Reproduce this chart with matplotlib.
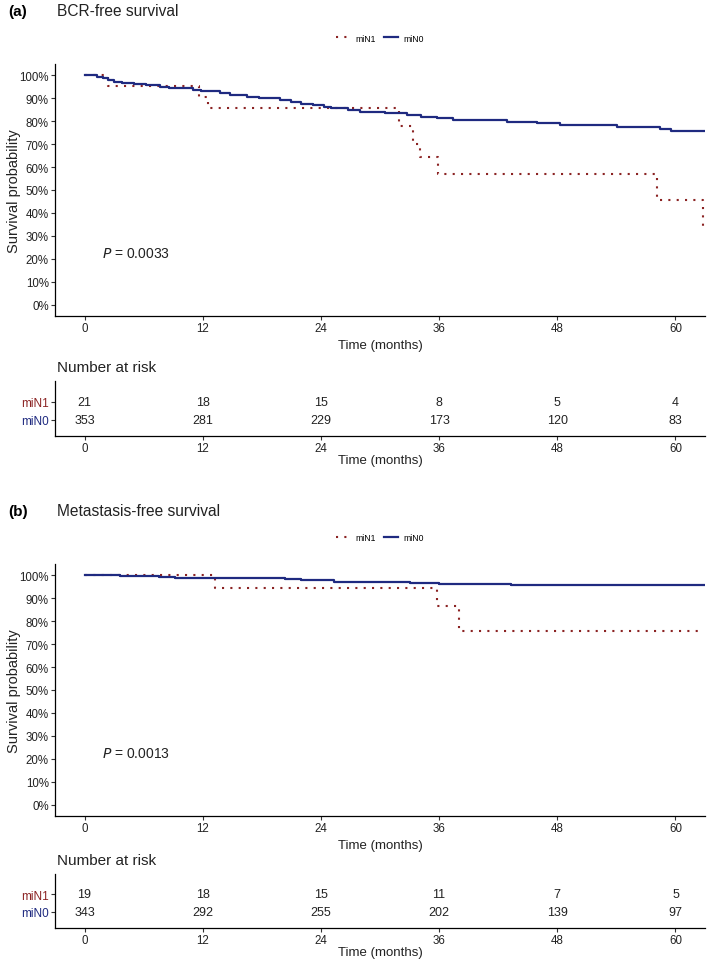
import matplotlib
matplotlib.use("Agg")
import matplotlib.pyplot as plt
from matplotlib.ticker import FuncFormatter

plt.rcParams['font.family'] = ['Liberation Sans', 'DejaVu Sans']

# ---- data ----
groups = ['miN1', 'miN0']
risk_times = [0, 12, 24, 36, 48, 60]
x_ticks = [0, 12, 24, 36, 48, 60]

# (a) BCR-free survival
a_n1_t = [0, 2.4, 11.6, 12.5, 31.9, 33.3, 34.1, 35.9, 58.1, 62.8]
a_n1_s = [1.0, 0.952, 0.905, 0.857, 0.779, 0.701, 0.643, 0.571, 0.457, 0.343]
a_n0_t = [0, 1.3, 1.9, 2.4, 3.0, 3.8, 5.0, 6.2, 7.7, 8.6, 11.0, 11.8, 13.8, 14.8,
          16.5, 17.7, 19.8, 21.0, 22.0, 23.2, 24.3, 25.0, 26.8, 28.0, 30.5, 32.7,
          34.2, 35.8, 37.4, 42.9, 45.9, 48.3, 54.1, 58.4, 59.5]
a_n0_s = [1.0, 0.994, 0.988, 0.979, 0.972, 0.968, 0.963, 0.958, 0.951, 0.944, 0.937,
          0.930, 0.922, 0.915, 0.908, 0.900, 0.892, 0.884, 0.877, 0.869, 0.862, 0.856,
          0.849, 0.842, 0.835, 0.828, 0.820, 0.813, 0.806, 0.799, 0.791, 0.784, 0.776,
          0.767, 0.757]
a_risk_n1 = [21, 18, 15, 8, 5, 4]
a_risk_n0 = [353, 281, 229, 173, 120, 83]

# (b) Metastasis-free survival
b_n1_t = [0, 13.2, 35.8, 38.0]
b_n1_s = [1.0, 0.947, 0.868, 0.759]
b_n1_end = 62.3
b_n0_t = [0, 3.6, 7.6, 9.2, 20.4, 22.0, 23.3, 25.3, 33.0, 36.0, 43.3]
b_n0_s = [1.0, 0.997, 0.994, 0.988, 0.985, 0.982, 0.978, 0.973, 0.968, 0.963, 0.957]
b_risk_n1 = [19, 18, 15, 11, 7, 5]
b_risk_n0 = [343, 292, 255, 202, 139, 97]

RED = '#8B2323'
BLUE = '#1F2A80'
W, H = 709, 970


def box(left, top, right, bottom):
    return [left / W, 1 - bottom / H, (right - left) / W, (bottom - top) / H]


def style_axes(ax):
    for s in ['top', 'right']:
        ax.spines[s].set_visible(False)
    for s in ['left', 'bottom']:
        ax.spines[s].set_linewidth(0.9)
    ax.tick_params(length=3, width=0.8, pad=1.5, color='#333333', labelcolor='#222222')


def step(ax, t, s, end, **kw):
    ax.step(list(t) + [end], list(s) + [s[-1]], where='post', **kw)


def panel(fig, tag, title, off, n1, n0, end1, risk1, risk0, pval, risk_top, risk_bot):
    t1, s1 = n1
    t0, s0 = n0
    fig.text(8 / W, 1 - (off + 12) / H, tag, fontsize=11, fontweight='bold', va='center')
    fig.text(57 / W, 1 - (off + 12) / H, title, fontsize=11.2, va='center', color='#222222')

    ax = fig.add_axes(box(55, off + 65, 705, off + 317))
    step(ax, t1, s1, end1, color=RED, lw=1.5, linestyle=(0, (1, 3)),
         dash_capstyle='butt', label='miN1')
    step(ax, t0, s0, 63, color=BLUE, lw=1.6, label='miN0')
    ax.set_xlim(-3, 63)
    ax.set_ylim(-0.05, 1.05)
    ax.set_xticks(x_ticks)
    ax.set_yticks([i / 10 for i in range(11)])
    ax.yaxis.set_major_formatter(FuncFormatter(lambda v, p: '%d%%' % round(v * 100)))
    style_axes(ax)
    ax.tick_params(labelsize=8.3)
    ax.set_ylabel('Survival probability', fontsize=10.5, color='#222222')
    ax.yaxis.set_label_coords(-0.052, 0.5)
    ax.text(0.5, -29 / 252, 'Time (months)', transform=ax.transAxes,
            ha='center', va='center', fontsize=9.5, color='#222222')
    ax.text(1.8, 0.225, r'$P$ = ' + pval, fontsize=10, va='center', color='#222222')
    ax.legend(loc='center', bbox_to_anchor=(0.5, 1 + 26 / 252), ncol=2, frameon=False,
              fontsize=6.2, handlelength=1.6, columnspacing=1.0, handletextpad=0.6)

    # number at risk table
    rh = risk_bot - risk_top
    rt = fig.add_axes(box(55, risk_top, 705, risk_bot))
    rt.set_xlim(-3, 63)
    lo = 1 - 16 / 18
    rt.set_ylim(lo, lo + rh / 18)
    for x, a, b in zip(risk_times, risk1, risk0):
        rt.text(x, 2, str(a), ha='center', va='center', fontsize=9, color='#222222')
        rt.text(x, 1, str(b), ha='center', va='center', fontsize=9, color='#222222')
    rt.set_yticks([2, 1])
    rt.set_yticklabels(groups, fontsize=8.5)
    rt.set_xticks(x_ticks)
    style_axes(rt)
    rt.tick_params(axis='x', labelsize=8.3)
    rt.get_yticklabels()[0].set_color(RED)
    rt.get_yticklabels()[1].set_color(BLUE)
    rt.text(0.003, 1 + 14 / rh, 'Number at risk', transform=rt.transAxes,
            fontsize=11, va='center', color='#222222')
    rt.text(0.5, -24 / rh, 'Time (months)', transform=rt.transAxes,
            ha='center', va='center', fontsize=9.5, color='#222222')


fig = plt.figure(figsize=(W / 100, H / 100), dpi=100)
panel(fig, '(a)', 'BCR-free survival', 0, (a_n1_t, a_n1_s), (a_n0_t, a_n0_s), 63,
      a_risk_n1, a_risk_n0, '0.0033', 382, 437)
panel(fig, '(b)', 'Metastasis-free survival', 500, (b_n1_t, b_n1_s), (b_n0_t, b_n0_s),
      b_n1_end, b_risk_n1, b_risk_n0, '0.0013', 875, 929)
fig.savefig('out.png', dpi=100)
